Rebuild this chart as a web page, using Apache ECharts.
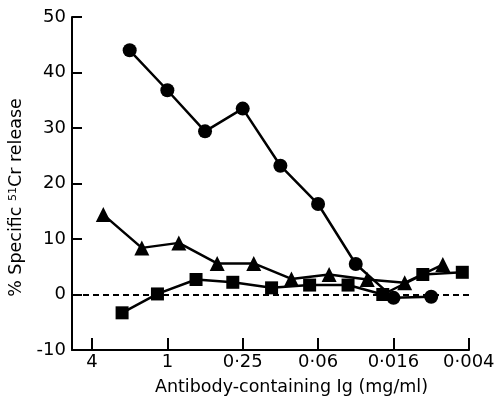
<!DOCTYPE html>
<html>
<head>
<meta charset="utf-8">
<style>
html, body { margin: 0; padding: 0; background: #fff; }
#chart { width: 496px; height: 397px; }
</style>
<script src="https://cdn.jsdelivr.net/npm/echarts@6/dist/echarts.min.js"></script>
</head>
<body>
<div id="chart"></div>
<script>
// antibody concentration (mg/ml) of each point
const circleConc = [2, 1, 0.5, 0.25, 0.125, 0.0625, 0.03125, 0.0156, 0.0078];
const circleRelease = [44.0, 36.8, 29.4, 33.5, 23.2, 16.3, 5.5, -0.6, -0.4];
const triangleConc = [3.25, 1.6, 0.81, 0.4, 0.204, 0.102, 0.051, 0.0253, 0.0127, 0.0063];
const triangleRelease = [14.4, 8.4, 9.3, 5.6, 5.6, 2.8, 3.6, 2.7, 2.1, 5.4];
const squareConc = [2.3, 1.2, 0.59, 0.3, 0.147, 0.073, 0.036, 0.019, 0.0091, 0.0044];
const squareRelease = [-3.3, 0.1, 2.7, 2.2, 1.2, 1.7, 1.7, 0.0, 3.6, 4.0];
// one label per power of 4, from 4^-4 to 4^1
const xTickLabels = ['0·004', '0·016', '0·06', '0·25', '1', '4'];

const FONT = 'DejaVu Sans';

function pairs(xs, ys) {
  return xs.map((x, i) => [x, ys[i]]);
}

function xLabel(v) {
  const p = Math.log(v) / Math.log(4);
  const k = Math.round(p);
  if (Math.abs(p - k) > 0.001) return '';
  const lbl = xTickLabels[k + 4];
  return lbl === undefined ? '' : lbl;
}

function makeSeries(name, symbol, size, data) {
  return {
    name: name,
    type: 'line',
    data: data,
    symbol: symbol,
    symbolSize: size,
    lineStyle: { color: '#000', width: 2.5 },
    itemStyle: { color: '#000' },
    z: 3
  };
}

const chart = echarts.init(document.getElementById('chart'));
const circles = makeSeries('circle', 'circle', 14, pairs(circleConc, circleRelease));
circles.markLine = {
  silent: true,
  symbol: 'none',
  label: { show: false },
  lineStyle: { color: '#000', width: 1.8, type: [6, 4] },
  data: [{ yAxis: 0 }]
};

chart.setOption({
  animation: false,
  grid: { left: 72, right: 27, top: 17, bottom: 47, containLabel: false, outerBoundsMode: 'none' },
  xAxis: {
    type: 'log',
    logBase: 4,
    inverse: true,
    min: 0.00389,
    max: 5.78,
    name: 'Antibody-containing Ig (mg/ml)',
    nameLocation: 'middle',
    nameGap: 28,
    nameTextStyle: { color: '#000', fontFamily: FONT, fontSize: 17.5, padding: [0, 0, 0, 42] },
    axisLine: { onZero: false, lineStyle: { color: '#000', width: 2 } },
    axisTick: { inside: true, length: 12, lineStyle: { color: '#000', width: 2 } },
    axisLabel: { color: '#000', fontFamily: FONT, fontSize: 18, margin: 3, formatter: xLabel },
    splitLine: { show: false },
    minorTick: { show: false }
  },
  yAxis: {
    type: 'value',
    min: -10,
    max: 50,
    interval: 10,
    name: '% Specific {sup|51}Cr release',
    nameLocation: 'middle',
    nameGap: 32,
    nameTextStyle: {
      color: '#000', fontFamily: FONT, fontSize: 17.5, padding: [0, 28, 0, 0],
      rich: { sup: { fontFamily: FONT, fontSize: 11, verticalAlign: 'top', padding: [0, 0, 8, 0] } }
    },
    axisLine: { show: true, lineStyle: { color: '#000', width: 2 } },
    axisTick: { show: true, inside: true, length: 10, lineStyle: { color: '#000', width: 2 } },
    axisLabel: { color: '#000', fontFamily: FONT, fontSize: 18, margin: 6 },
    splitLine: { show: false }
  },
  series: [
    circles,
    makeSeries('triangle', 'triangle', 15, pairs(triangleConc, triangleRelease)),
    makeSeries('square', 'rect', 13, pairs(squareConc, squareRelease))
  ]
});
</script>
</body>
</html>
